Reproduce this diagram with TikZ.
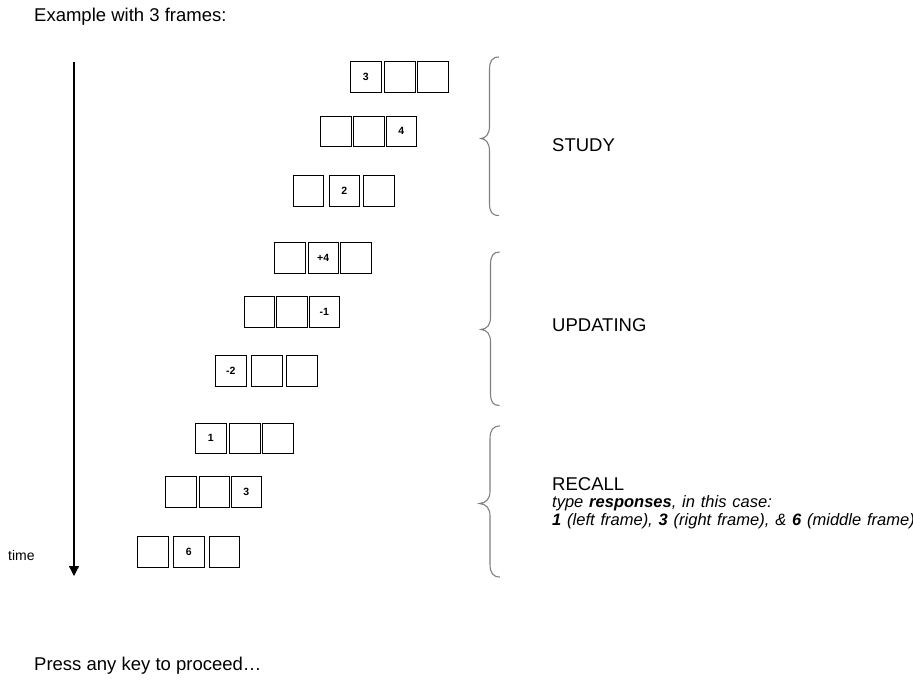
\documentclass[tikz,border=0pt]{standalone}
\usepackage{fontspec}
\setmainfont{Liberation Sans}
\usetikzlibrary{arrows.meta}
\newcommand{\widesp}{\spaceskip=5.85pt\relax}
\begin{document}
\begin{tikzpicture}[x=1pt,y=-1pt,
  frame/.style={draw, line width=0.9pt, minimum width=30.5pt, minimum height=30.5pt, inner sep=0pt, anchor=north west, font=\fontsize{10.5}{12}\selectfont\bfseries},
  bigtext/.style={anchor=base west, inner sep=0pt, font=\fontsize{18.5}{22}\selectfont},
  smalltext/.style={anchor=base west, inner sep=0pt, font=\fontsize{16.5}{19}\selectfont},
  brace/.style={draw=gray, line width=1.1pt}]
\useasboundingbox[fill=white] (0,0) rectangle (913,681);

\node[bigtext] (title) at (34,21) {Example with 3 frames:};
\node[bigtext] (press) at (34,670) {Press any key to proceed\ldots};

% time arrow
\coordinate (ttop) at (74,62);
\coordinate (tbot) at (74,576);
\draw[line width=1.2pt, -{Triangle[width=10pt,length=10pt]}] (ttop) -- (tbot);
\node[anchor=base west, inner sep=0pt, font=\fontsize{14}{16}\selectfont] (time) at (8,560.5) {time};

% rows of frames
\node[frame] (r1a) at (350,61) {3};
\node[frame] (r1b) at (384,61) {};
\node[frame] (r1c) at (417,61) {};

\node[frame] (r2a) at (320,115.5) {};
\node[frame] (r2b) at (353,115.5) {};
\node[frame] (r2c) at (385.5,115.5) {4};

\node[frame] (r3a) at (292.5,175) {};
\node[frame] (r3b) at (328.5,175) {2};
\node[frame] (r3c) at (363,175) {};

\node[frame] (r4a) at (274,242) {};
\node[frame] (r4b) at (307.5,242) {+4};
\node[frame] (r4c) at (340,242) {};

\node[frame] (r5a) at (243.5,296) {};
\node[frame] (r5b) at (276,296) {};
\node[frame] (r5c) at (308.5,296) {-1};

\node[frame] (r6a) at (215,355) {-2};
\node[frame] (r6b) at (251,355) {};
\node[frame] (r6c) at (286,355) {};

\node[frame] (r7a) at (195,422.5) {1};
\node[frame] (r7b) at (229,422.5) {};
\node[frame] (r7c) at (262,422.5) {};

\node[frame] (r8a) at (165,476) {};
\node[frame] (r8b) at (198.5,476) {};
\node[frame] (r8c) at (230.5,476) {3};

\node[frame] (r9a) at (137,536) {};
\node[frame] (r9b) at (173,536) {6};
\node[frame] (r9c) at (208.5,536) {};

% braces
\draw[brace] (499,57) .. controls (492,57) and (489.5,61) .. (489.5,70)
  -- (489.5,126) .. controls (489.5,134) and (486,138) .. (481,138.5)
  .. controls (486,139) and (489.5,143) .. (489.5,151)
  -- (489.5,203) .. controls (489.5,212) and (492,215.5) .. (499,215.5);
\draw[brace] (499.5,252) .. controls (493,252) and (490.5,256) .. (490.5,265)
  -- (490.5,317) .. controls (490.5,325) and (487,329) .. (481,329.5)
  .. controls (487,330) and (490.5,334) .. (490.5,342)
  -- (490.5,393) .. controls (490.5,402) and (493,405.5) .. (499.5,405.5);
\draw[brace] (500,426) .. controls (493,426) and (490,430) .. (490,439)
  -- (490,491) .. controls (490,499) and (486,503) .. (479.5,503.5)
  .. controls (486,504) and (490,508) .. (490,516)
  -- (490,564) .. controls (490,573) and (493,577) .. (500,577);

% labels
\node[bigtext] (study) at (552,151) {STUDY};
\node[bigtext] (updating) at (552,331.5) {UPDATING};
\node[bigtext] (recall) at (552,490.5) {RECALL};
\node[smalltext] (resp1) at (552,507.5) {\widesp\itshape type \textbf{responses}, in this case:};
\node[smalltext] (resp2) at (552,525.5) {\widesp\itshape\textbf{1} (left frame), \textbf{3} (right frame), \& \textbf{6} (middle frame)};
\end{tikzpicture}
\end{document}
